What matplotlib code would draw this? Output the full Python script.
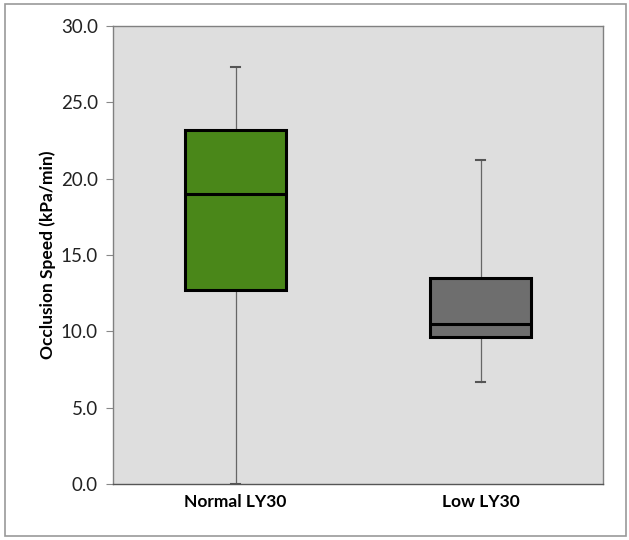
import matplotlib
matplotlib.use("Agg")
import matplotlib.pyplot as plt
from matplotlib.patches import Rectangle

# -------- DATA --------
groups = ["Normal LY30", "Low LY30"]
whisker_low = [0.0, 6.7]
q1 = [12.7, 9.6]
median = [19.0, 10.5]
q3 = [23.2, 13.5]
whisker_high = [27.3, 21.2]
box_colors = ["#4A8719", "#6E6E6E"]

yticks = [0, 5, 10, 15, 20, 25, 30]

plt.rcParams["font.family"] = ["Lato", "DejaVu Sans"]

stats = []
for i, g in enumerate(groups):
    stats.append({"label": g, "whislo": whisker_low[i], "q1": q1[i], "med": median[i],
                  "q3": q3[i], "whishi": whisker_high[i], "fliers": []})

fig = plt.figure(figsize=(6.29, 5.40), dpi=100)
ax = fig.add_axes([0.1797, 0.1037, 0.7790, 0.8482])
ax.set_facecolor("#DEDEDE")

bp = ax.bxp(stats, positions=[1, 2], widths=0.41, capwidths=0.04, patch_artist=True,
            showfliers=False,
            boxprops=dict(edgecolor="black", linewidth=2.2),
            medianprops=dict(color="black", linewidth=2.2),
            whiskerprops=dict(color="#666666", linewidth=0.9),
            capprops=dict(color="#555555", linewidth=1.5))
for patch, c in zip(bp["boxes"], box_colors):
    patch.set_facecolor(c)
    patch.set_zorder(3)
for m in bp["medians"]:
    m.set_zorder(4)

ax.set_xlim(0.5, 2.5)
ax.set_ylim(0, 30)
ax.set_yticks(yticks)
ax.set_yticklabels([f"{v:.1f}" for v in yticks], fontsize=13.5, color="#222222")
ax.set_xticks([1, 2])
ax.set_xticklabels(groups, fontsize=12.5, fontweight="bold")
ax.tick_params(axis="x", length=0, pad=7)
ax.tick_params(axis="y", length=5, color="#888888", pad=6)
ax.set_ylabel("Occlusion Speed (kPa/min)", fontsize=12.5, fontweight="bold", labelpad=3)

for s in ax.spines.values():
    s.set_color("#808080")
    s.set_linewidth(1.0)
ax.spines["bottom"].set_color("#555555")

# outer chart border
fig.patches.append(Rectangle((5 / 629, 4 / 540), 621 / 629, 532 / 540,
                             transform=fig.transFigure, fill=False,
                             edgecolor="#999999", linewidth=1.2))

fig.savefig("out.png", dpi=100)
